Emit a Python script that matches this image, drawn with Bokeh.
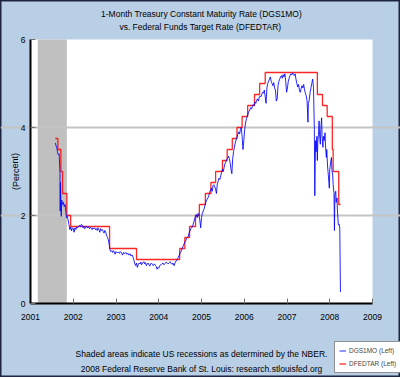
from bokeh.plotting import figure
from bokeh.models import (FixedTicker, BoxAnnotation, Label, Legend, LegendItem)
from bokeh.embed import file_html
from bokeh.resources import INLINE

# ---------------- data ----------------
year_ticks = [2001, 2002, 2003, 2004, 2005, 2006, 2007, 2008, 2009]
pct_ticks = [0, 2, 4, 6]
x_start, x_end = 2001, 2009
y_start, y_end = 0, 6

recession_start = [2001.17]
recession_end = [2001.85]

# Federal funds target rate (DFEDTAR): change points (decimal year) and level
fed_year = [2001.58, 2001.64, 2001.71, 2001.75, 2001.85, 2001.94, 2002.85, 2003.48,
            2004.49, 2004.61, 2004.72, 2004.86, 2004.95, 2005.09, 2005.22, 2005.33,
            2005.49, 2005.60, 2005.72, 2005.83, 2005.95, 2006.08, 2006.24, 2006.36,
            2006.49, 2007.71, 2007.83, 2007.94, 2008.06, 2008.08, 2008.21, 2008.25]
fed_rate = [3.75, 3.50, 3.00, 2.50, 2.00, 1.75, 1.25, 1.00,
            1.25, 1.50, 1.75, 2.00, 2.25, 2.50, 2.75, 3.00,
            3.25, 3.50, 3.75, 4.00, 4.25, 4.50, 4.75, 5.00,
            5.25, 4.75, 4.50, 4.25, 3.50, 3.00, 2.25, 2.25]

# 1-month Treasury constant maturity rate (DGS1MO)
dgs_year = [
    2001.58, 2001.60, 2001.62, 2001.63, 2001.65, 2001.67, 2001.69, 2001.695, 2001.70, 2001.71,
    2001.72, 2001.73, 2001.75, 2001.77, 2001.79, 2001.81, 2001.83, 2001.84, 2001.86, 2001.88,
    2001.90, 2001.92, 2001.94, 2001.96, 2001.98, 2002.00, 2002.02, 2002.04, 2002.06, 2002.08,
    2002.10, 2002.13, 2002.15, 2002.17, 2002.19, 2002.21, 2002.23, 2002.25, 2002.27, 2002.29,
    2002.31, 2002.33, 2002.36, 2002.38, 2002.40, 2002.42, 2002.44, 2002.46, 2002.48, 2002.50,
    2002.52, 2002.54, 2002.56, 2002.58, 2002.60, 2002.62, 2002.64, 2002.66, 2002.68, 2002.70,
    2002.72, 2002.74, 2002.76, 2002.78, 2002.80, 2002.82, 2002.84, 2002.86, 2002.88, 2002.90,
    2002.92, 2002.94, 2002.96, 2002.98, 2003.00, 2003.03, 2003.05, 2003.08, 2003.10, 2003.13,
    2003.15, 2003.18, 2003.20, 2003.23, 2003.25, 2003.28, 2003.30, 2003.33, 2003.35, 2003.38,
    2003.40, 2003.42, 2003.44, 2003.46, 2003.48, 2003.50, 2003.52, 2003.54, 2003.56, 2003.58,
    2003.60, 2003.62, 2003.65, 2003.67, 2003.69, 2003.71, 2003.73, 2003.75, 2003.77, 2003.79,
    2003.81, 2003.83, 2003.85, 2003.87, 2003.90, 2003.92, 2003.94, 2003.96, 2003.98, 2004.00,
    2004.02, 2004.05, 2004.07, 2004.10, 2004.12, 2004.15, 2004.17, 2004.20, 2004.22, 2004.25,
    2004.27, 2004.29, 2004.31, 2004.33, 2004.36, 2004.38, 2004.40, 2004.43, 2004.46, 2004.48,
    2004.50, 2004.52, 2004.55, 2004.57, 2004.59, 2004.61, 2004.63, 2004.65, 2004.67, 2004.69,
    2004.71, 2004.73, 2004.75, 2004.77, 2004.80, 2004.82, 2004.84, 2004.86, 2004.88, 2004.90,
    2004.92, 2004.94, 2004.96, 2004.98, 2005.00, 2005.02, 2005.04, 2005.06, 2005.08, 2005.10,
    2005.12, 2005.15, 2005.17, 2005.19, 2005.21, 2005.23, 2005.25, 2005.27, 2005.29, 2005.31,
    2005.33, 2005.35, 2005.37, 2005.39, 2005.41, 2005.43, 2005.45, 2005.47, 2005.49, 2005.51,
    2005.53, 2005.55, 2005.57, 2005.59, 2005.61, 2005.63, 2005.65, 2005.67, 2005.69, 2005.71,
    2005.73, 2005.75, 2005.77, 2005.79, 2005.81, 2005.83, 2005.85, 2005.87, 2005.89, 2005.91,
    2005.93, 2005.95, 2005.97, 2005.99, 2006.01, 2006.03, 2006.05, 2006.08, 2006.10, 2006.13,
    2006.15, 2006.17, 2006.19, 2006.21, 2006.23, 2006.25, 2006.27, 2006.29, 2006.31, 2006.33,
    2006.35, 2006.37, 2006.39, 2006.41, 2006.43, 2006.45, 2006.47, 2006.49, 2006.51, 2006.53,
    2006.55, 2006.57, 2006.59, 2006.61, 2006.63, 2006.65, 2006.67, 2006.69, 2006.71, 2006.73,
    2006.75, 2006.77, 2006.79, 2006.81, 2006.83, 2006.85, 2006.87, 2006.89, 2006.91, 2006.93,
    2006.95, 2006.97, 2006.99, 2007.01, 2007.03, 2007.05, 2007.07, 2007.09, 2007.11, 2007.13,
    2007.15, 2007.17, 2007.19, 2007.21, 2007.23, 2007.25, 2007.27, 2007.29, 2007.31, 2007.33,
    2007.35, 2007.37, 2007.39, 2007.41, 2007.43, 2007.45, 2007.47, 2007.49, 2007.50, 2007.52,
    2007.54, 2007.56, 2007.58, 2007.60, 2007.62, 2007.63, 2007.64, 2007.65, 2007.66, 2007.67,
    2007.68, 2007.70, 2007.71, 2007.72, 2007.74, 2007.75, 2007.76, 2007.78, 2007.79, 2007.81,
    2007.82, 2007.84, 2007.85, 2007.87, 2007.89, 2007.90, 2007.92, 2007.93, 2007.95, 2007.96,
    2007.98, 2007.99, 2008.00, 2008.02, 2008.04, 2008.05, 2008.07, 2008.08, 2008.10, 2008.11,
    2008.12, 2008.14, 2008.15, 2008.17, 2008.18, 2008.20, 2008.21, 2008.22, 2008.235, 2008.25]
dgs_rate = [
    3.65, 3.58, 3.52, 3.45, 3.38, 3.40, 2.95, 2.10, 2.75, 2.30,
    1.98, 2.35, 2.25, 2.30, 2.20, 2.25, 2.05, 1.95, 1.98, 1.90,
    1.80, 1.68, 1.74, 1.65, 1.72, 1.70, 1.62, 1.72, 1.68, 1.74,
    1.72, 1.76, 1.78, 1.75, 1.80, 1.78, 1.72, 1.75, 1.70, 1.73,
    1.76, 1.72, 1.74, 1.70, 1.73, 1.71, 1.68, 1.72, 1.70, 1.72,
    1.68, 1.70, 1.66, 1.72, 1.68, 1.62, 1.70, 1.66, 1.68, 1.64,
    1.60, 1.66, 1.62, 1.55, 1.50, 1.45, 1.35, 1.22, 1.18, 1.20,
    1.16, 1.20, 1.17, 1.12, 1.18, 1.15, 1.17, 1.14, 1.18, 1.15,
    1.10, 1.16, 1.13, 1.16, 1.12, 1.14, 1.10, 1.13, 1.08, 1.10,
    1.05, 0.98, 0.90, 0.86, 0.92, 0.82, 0.88, 0.92, 0.90, 0.94,
    0.88, 0.92, 0.95, 0.90, 0.93, 0.86, 0.90, 0.92, 0.88, 0.85,
    0.90, 0.92, 0.89, 0.86, 0.90, 0.87, 0.84, 0.78, 0.82, 0.80,
    0.86, 0.88, 0.90, 0.92, 0.88, 0.91, 0.94, 0.92, 0.90, 0.93,
    0.95, 0.91, 0.89, 0.92, 0.86, 0.92, 0.96, 1.00, 1.05, 1.10,
    1.15, 1.18, 1.25, 1.30, 1.35, 1.40, 1.42, 1.48, 1.50, 1.52,
    1.60, 1.65, 1.70, 1.72, 1.78, 1.85, 1.92, 1.98, 2.02, 1.95,
    2.05, 2.02, 1.90, 1.72, 1.95, 2.05, 2.10, 2.15, 2.22, 2.30,
    2.35, 2.40, 2.45, 2.52, 2.58, 2.62, 2.55, 2.68, 2.70, 2.65,
    2.60, 2.50, 2.72, 2.78, 2.85, 2.82, 2.90, 2.98, 3.05, 3.00,
    3.10, 3.18, 3.22, 3.28, 3.30, 3.35, 3.30, 3.20, 3.05, 2.95,
    3.30, 3.45, 3.55, 3.65, 3.72, 3.78, 3.85, 3.90, 3.85, 3.95,
    4.00, 3.80, 3.50, 3.70, 3.95, 4.10, 4.20, 4.28, 4.35, 4.40,
    4.45, 4.42, 4.48, 4.52, 4.50, 4.58, 4.55, 4.62, 4.65, 4.60,
    4.68, 4.72, 4.70, 4.75, 4.80, 4.78, 4.85, 4.70, 4.55, 4.90,
    5.00, 5.05, 5.10, 5.15, 5.05, 5.00, 4.95, 5.02, 4.90, 4.85,
    4.60, 4.65, 4.95, 5.05, 5.10, 5.15, 5.18, 5.12, 5.20, 5.15,
    5.22, 5.05, 4.80, 4.90, 5.05, 5.12, 5.18, 5.22, 5.20, 5.24,
    5.20, 5.18, 5.22, 5.10, 5.00, 4.92, 4.98, 4.85, 4.80, 4.88,
    4.95, 4.90, 4.98, 4.85, 4.78, 4.72, 4.60, 4.12, 4.55, 4.62,
    4.80, 4.90, 5.00, 5.10, 4.90, 4.40, 3.95, 2.45, 3.20, 3.70,
    3.45, 3.80, 3.25, 3.65, 3.90, 4.15, 3.85, 3.62, 3.95, 4.22,
    3.80, 3.55, 3.80, 3.70, 3.88, 3.60, 3.32, 3.50, 3.10, 3.00,
    2.75, 2.62, 3.05, 3.20, 3.32, 3.05, 2.90, 2.70, 2.50, 1.66,
    2.48, 2.55, 2.30, 2.40, 2.10, 1.80, 1.78, 1.80, 1.70, 0.26]

title_1 = "1-Month Treasury Constant Maturity Rate (DGS1MO)"
title_2 = "vs.  Federal Funds Target Rate (DFEDTAR)"
note_1 = "Shaded areas indicate US recessions as determined by the NBER."
note_2 = "2008 Federal Reserve Bank of St. Louis: research.stlouisfed.org"
y_label = "(Percent)"
series_names = ["DGS1MO (Left)", "DFEDTAR (Left)"]

# ---------------- layout constants (pixels) ----------------
W, H = 400, 377
PAD_L, PAD_R, PAD_T, PAD_B = 30, 28, 39, 74      # plot area inside the canvas
FONT = "Liberation Sans"
BG = "#b8cfe6"

px_per_x = (W - PAD_L - PAD_R) / (x_end - x_start)
px_per_y = (H - PAD_T - PAD_B) / (y_end - y_start)
xr = (x_start - PAD_L / px_per_x, x_end + PAD_R / px_per_x)
yr = (y_start - PAD_B / px_per_y, y_end + PAD_T / px_per_y)

p = figure(width=W, height=H, x_range=xr, y_range=yr, title=None,
           output_backend="svg", toolbar_location=None,
           min_border_left=0, min_border_right=0, min_border_top=0, min_border_bottom=0,
           background_fill_color=BG, border_fill_color=BG)
p.outline_line_color = "#1c2440"
p.outline_line_width = 2

# white plot area and recession shading
p.add_layout(BoxAnnotation(left=x_start, right=x_end, bottom=y_start, top=y_end,
                           fill_color="white", fill_alpha=1.0, line_color=None, level="image"))
for s, e in zip(recession_start, recession_end):
    p.add_layout(BoxAnnotation(left=s, right=e, bottom=y_start, top=y_end,
                               fill_color="#c0c0c0", fill_alpha=1.0,
                               line_color=None, level="image"))

p.xgrid.grid_line_color = None
p.ygrid.grid_line_color = "#c4c4c4"
p.ygrid.grid_line_width = 2
p.ygrid.ticker = FixedTicker(ticks=pct_ticks[1:-1])
p.ygrid.bounds = (x_start, x_end)

p.xaxis.fixed_location = y_start
p.xaxis.bounds = (x_start, x_end)
p.yaxis.fixed_location = x_start
p.yaxis.bounds = (y_start, y_end)
for ax, ticks in ((p.xaxis[0], year_ticks), (p.yaxis[0], pct_ticks)):
    ax.ticker = FixedTicker(ticks=ticks)
    ax.axis_line_color = "#000000"
    ax.axis_line_width = 2
    ax.major_tick_in = 5
    ax.major_tick_out = 0
    ax.major_tick_line_color = "#707070"
    ax.minor_tick_line_color = None
    ax.major_label_text_font = FONT
    ax.major_label_text_font_size = "8.5px"
    ax.major_label_text_color = "#000000"
p.xaxis.major_label_standoff = 10
p.yaxis.major_label_standoff = 5

red = p.step(fed_year, fed_rate, mode="after", line_color="#ff0000", line_width=1.3,
             line_alpha=0.85)
blue = p.line(dgs_year, dgs_rate, line_color="#0000ff", line_width=1, line_alpha=0.85)

# texts: screen units from the canvas bottom-left
def lab(x, y, text, size="8.5px", angle=0.0):
    p.add_layout(Label(x=x, y=y, x_units="screen", y_units="screen", text=text,
                       text_font=FONT, text_font_size=size, text_color="#000000",
                       text_align="center", text_baseline="middle", angle=angle))

cx = PAD_L + (W - PAD_L - PAD_R) / 2
lab(cx, H - 13, title_1)
lab(cx, H - 26, title_2)
lab(cx, 24, note_1)
lab(cx, 9, note_2)
lab(15, PAD_B + (H - PAD_T - PAD_B) / 2, y_label, size="9px", angle=1.5708)

legend = Legend(items=[LegendItem(label=series_names[0], renderers=[blue]),
                       LegendItem(label=series_names[1], renderers=[red])],
                location=(334, 4), label_text_font=FONT, label_text_font_size="6.5px",
                glyph_width=7, glyph_height=9, label_height=9, label_standoff=3,
                spacing=4, padding=4, margin=0, border_line_color="#222222",
                border_line_width=1, background_fill_color="white", background_fill_alpha=1)
p.add_layout(legend, "center")

open("out.html", "w").write(file_html(p, INLINE))
